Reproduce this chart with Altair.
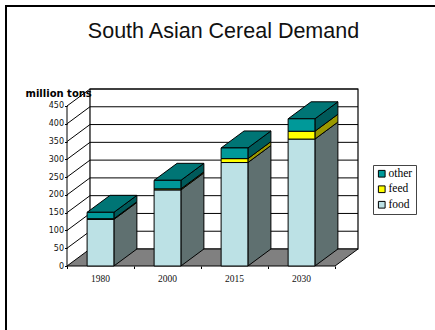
import altair as alt
import pandas as pd

# Cereal demand by use, million tons
years = ["1980", "2000", "2015", "2030"]
food = [131, 214, 291, 357]
feed = [2, 3, 11, 22]
other = [18, 24, 30, 35]

parts = ["other", "feed", "food"]
front_colors = ["#009999", "#FFFF00", "#BCE1E5"]
side_colors = {"food": "#5F7070", "feed": "#999900", "other": "#005A5A"}
top_color = "#007575"
floor_color = "#808080"
y_ticks = list(range(0, 451, 50))

# Oblique depth of the box, in axis units
DX = 0.343
DY = 47.8
BAR_L, BAR_R = 0.30, 0.70
X_MAX = 4

x_scale = alt.Scale(domain=[0, X_MAX + DX], nice=False, zero=False)
y_scale = alt.Scale(domain=[0, 450 + DY], nice=False, zero=False)

x_axis = alt.Axis(values=list(range(X_MAX + 1)), labels=False, title=None, domain=False,
                  tickColor="black", tickSize=2.5, grid=False, zindex=1)
y_axis_spec = alt.Axis(values=y_ticks, title="million tons", titleAngle=0, titleAlign="left",
                       titleBaseline="middle", titleX=-42, titleY=4, titleFont="DejaVu Sans",
                       titleFontSize=10, titleFontWeight="bold", titleColor="black",
                       labelFont="DejaVu Sans", labelFontSize=8, labelColor="#111111",
                       labelPadding=1, tickSize=2.5, tickColor="black", domain=False,
                       grid=False, zindex=1)

fronts, sides, tops = [], [], []
for i, year in enumerate(years):
    base = 0
    x0, x1 = i + BAR_L, i + BAR_R
    for name, vals in (("food", food), ("feed", feed), ("other", other)):
        hi = base + vals[i]
        fronts.append({"part": name, "x0": x0, "x1": x1, "lo": base, "hi": hi})
        face = f"{year}-{name}"
        for step in (0, 1):
            sides.append({"face": face, "fill": side_colors[name],
                          "x": x1 + step * DX,
                          "lo": base + step * DY, "hi": hi + step * DY})
        base = hi
    for step in (0, 1):
        tops.append({"face": year, "y": base + step * DY,
                     "x0": x0 + step * DX, "x1": x1 + step * DX})

grid = []
for t in y_ticks[1:]:
    grid += [{"tick": t, "x": 0, "y": t, "o": 0},
             {"tick": t, "x": DX, "y": t + DY, "o": 1},
             {"tick": t, "x": X_MAX + DX, "y": t + DY, "o": 2}]

floor = pd.DataFrame([
    {"y": 0, "x0": 0, "x1": X_MAX},
    {"y": DY, "x0": DX, "x1": X_MAX + DX},
])
X = lambda f: alt.X(f, type="quantitative", scale=x_scale, axis=x_axis, stack=None)
Y = lambda f: alt.Y(f, type="quantitative", scale=y_scale, axis=y_axis_spec, stack=None)

page_frame = alt.layer(
    alt.Chart(pd.DataFrame({"a": [0]})).mark_rule(color="black", strokeWidth=2).encode(
        x=alt.value(-61), x2=alt.value(368), y=alt.value(-83)),
    alt.Chart(pd.DataFrame({"a": [0]})).mark_rule(color="black", strokeWidth=2).encode(
        x=alt.value(-61), y=alt.value(-84), y2=alt.value(241)),
)

back_wall = alt.Chart(pd.DataFrame([{"x0": DX, "x1": X_MAX + DX, "y0": DY, "y1": 450 + DY}])).mark_rect(
    fill="white", stroke="black", strokeWidth=1.2
).encode(x=X("x0"), x2="x1", y=Y("y0"), y2="y1")

floor_layer = alt.Chart(floor).mark_area(
    orient="horizontal", fill=floor_color, stroke="black", strokeWidth=1
).encode(x=X("x0"), x2="x1", y=Y("y"))

grid_layer = alt.Chart(pd.DataFrame(grid)).mark_line(color="black", strokeWidth=1).encode(
    x=X("x"), y=Y("y"), detail="tick:N", order="o:Q")

y_axis = alt.Chart(pd.DataFrame([{"x": 0, "lo": 0, "hi": 450}])).mark_rule(
    color="black", strokeWidth=1
).encode(x=X("x"), y=Y("lo"), y2="hi")

front_layer = alt.Chart(pd.DataFrame(fronts)).mark_rect(stroke="black", strokeWidth=1).encode(
    x=X("x0"), x2="x1", y=Y("lo"), y2="hi",
    color=alt.Color("part:N", scale=alt.Scale(domain=parts, range=front_colors),
                    legend=alt.Legend(title=None, orient="none", legendX=306, legendY=76,
                                      symbolType="square", symbolSize=45,
                                      symbolStrokeColor="black", symbolStrokeWidth=1,
                                      labelFont="Liberation Serif", labelFontSize=11.5,
                                      labelColor="black", labelOffset=1, rowPadding=2.5,
                                      padding=3, strokeColor="#444444", fillColor="white")),
)

side_layer = alt.Chart(pd.DataFrame(sides)).mark_area(stroke="black", strokeWidth=1).encode(
    x=X("x"), y=Y("lo"), y2="hi",
    fill=alt.Fill("fill:N", scale=None), detail="face:N",
)

top_layer = alt.Chart(pd.DataFrame(tops)).mark_area(
    orient="horizontal", fill=top_color, stroke="black", strokeWidth=1
).encode(x=X("x0"), x2="x1", y=Y("y"), detail="face:N")

year_labels = alt.Chart(pd.DataFrame({"year": years, "x": [i + 0.5 for i in range(4)], "y": [0] * 4})).mark_text(
    font="Liberation Serif", fontSize=9.5, color="#111111", dy=13
).encode(x=X("x"), y=Y("y"), text="year:N")

chart = alt.layer(
    page_frame, back_wall, floor_layer, grid_layer, y_axis,
    side_layer, top_layer, front_layer, year_labels,
).properties(
    width=291,
    height=177,
    title=alt.TitleParams("South Asian Cereal Demand", font="Liberation Sans", fontSize=21.5,
                          fontWeight="normal", color="#111111", anchor="middle", frame="group",
                          dx=11, offset=-38),
    autosize=alt.AutoSizeParams(type="none"),
    padding={"left": 67, "top": 89, "right": 77, "bottom": 64},
).configure_view(stroke=None)

chart.save("out.html", embed_options={"renderer": "svg", "actions": False})
